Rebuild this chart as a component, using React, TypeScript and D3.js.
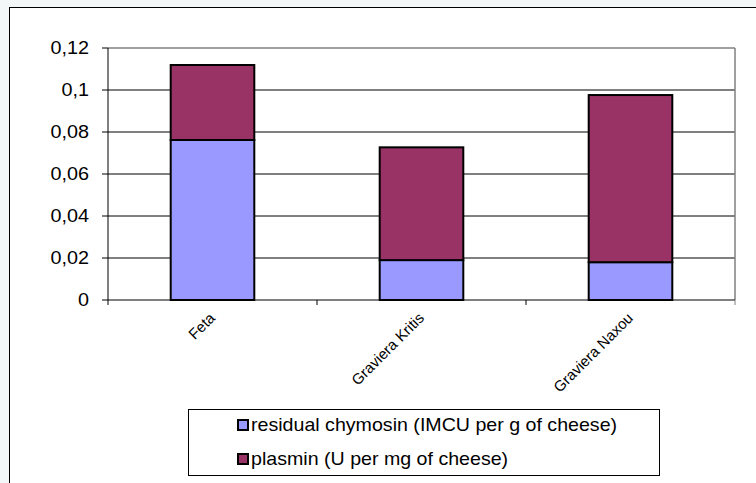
import React from "react";
import * as d3 from "d3";

const categories = ["Feta", "Graviera Kritis", "Graviera Naxou"];
const chymosin = [0.0762, 0.019, 0.018];
const plasmin = [0.0357, 0.0537, 0.0796];
const seriesNames = ["residual chymosin (IMCU per g of cheese)", "plasmin (U per mg of cheese)"];
const seriesColors = ["#9999FF", "#993366"];
const yTicks = [0, 0.02, 0.04, 0.06, 0.08, 0.1, 0.12];

const W = 756, H = 483;
const plot = { left: 108, right: 735, top: 48, bottom: 300 };

export default function App() {
  const x = d3.scaleBand().domain(categories).range([plot.left, plot.right]).paddingInner(0.6).paddingOuter(0.3);
  const xb = d3.scaleBand().domain(categories).range([plot.left, plot.right]);
  const y = d3.scaleLinear().domain([0, 0.12]).range([plot.bottom, plot.top]);
  const data = categories.map((c, i) => ({ cat: c, chym: chymosin[i], plas: plasmin[i] }));
  const stack = d3.stack<any>().keys(["chym", "plas"])(data);
  const fmt = (v: number) => (v === 0 ? "0" : String(+v.toFixed(2)).replace(".", ","));
  return (
    <svg width={W} height={H} style={{ position: "absolute", left: 0, top: 0, fontFamily: "Arial, 'Liberation Sans', sans-serif" }}>
      <rect x={0} y={0} width={W} height={H} fill="#F3F7F7" />
      <rect x={9.5} y={7.5} width={W + 20} height={H + 20} fill="#FFFFFF" stroke="#000" strokeWidth={1} />
      {yTicks.slice(1, -1).map((t) => (
        <line key={t} x1={plot.left} x2={plot.right} y1={y(t)} y2={y(t)} stroke="#000" strokeWidth={1} />
      ))}
      <line x1={plot.left} x2={plot.right} y1={plot.top} y2={plot.top} stroke="#808080" strokeWidth={1.5} />
      <line x1={plot.right} x2={plot.right} y1={plot.top} y2={plot.bottom} stroke="#808080" strokeWidth={1.5} />
      {stack.map((s, si) =>
        s.map((d, i) => (
          <rect key={si + "-" + i} x={x(categories[i])!} width={x.bandwidth()} y={y(d[1])} height={y(d[0]) - y(d[1])}
            fill={seriesColors[si]} stroke="#000" strokeWidth={2} />
        ))
      )}
      <line x1={plot.left} x2={plot.left} y1={plot.top} y2={plot.bottom} stroke="#000" strokeWidth={1} />
      <line x1={plot.left} x2={plot.right} y1={plot.bottom} y2={plot.bottom} stroke="#000" strokeWidth={1} />
      {yTicks.map((t) => (
        <g key={"yt" + t}>
          <line x1={plot.left - 6} x2={plot.left} y1={y(t)} y2={y(t)} stroke="#000" />
          <text transform={`translate(${plot.left - 19},${y(t)}) scale(1.1,1)`} dy="0.36em" textAnchor="end" fontSize={18} fill="#000">{fmt(t)}</text>
        </g>
      ))}
      {categories.map((c, i) => (
        <line key={"xt" + i} x1={xb(c)!} x2={xb(c)!} y1={plot.bottom} y2={plot.bottom + 5} stroke="#000" />
      ))}
      <line x1={plot.right} x2={plot.right} y1={plot.bottom} y2={plot.bottom + 5} stroke="#808080" />
      {categories.map((c) => {
        const cx = xb(c)! + xb.bandwidth() / 2 + 3.5;
        const cy = plot.bottom + 19;
        return (
          <text key={"xl" + c} transform={`translate(${cx},${cy}) rotate(-45)`} textAnchor="end" fontSize={15} fill="#000">{c}</text>
        );
      })}
      <rect x={188.5} y={409.5} width={471} height={66} fill="#fff" stroke="#000" strokeWidth={1} />
      {seriesNames.map((n, i) => (
        <g key={n}>
          <rect x={238} y={420 + i * 34} width={10} height={10} fill={seriesColors[i]} stroke="#000" strokeWidth={2} />
          <text transform={`translate(251,${425 + i * 34}) scale(1.09,1)`} dy="0.36em" fontSize={18} fill="#000">{n}</text>
        </g>
      ))}
    </svg>
  );
}
